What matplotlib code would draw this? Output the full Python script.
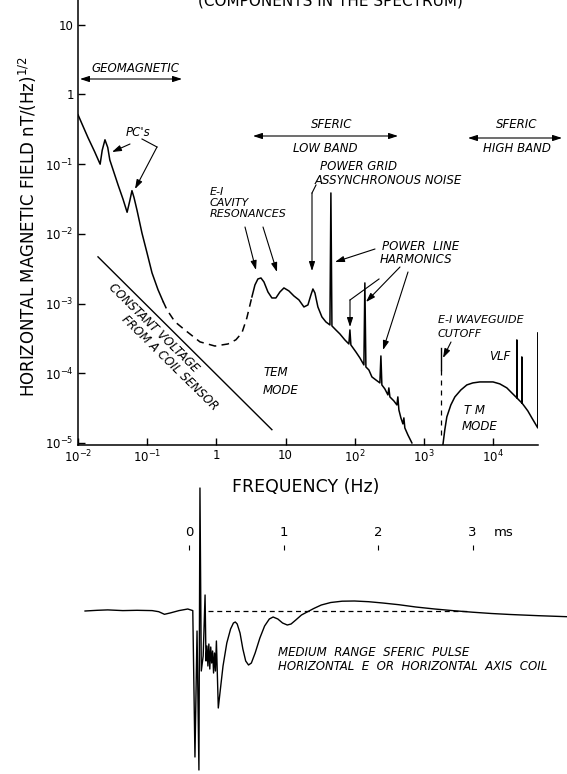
import numpy as np
import matplotlib.pyplot as plt

plt.rcParams['font.family'] = 'DejaVu Sans'
plt.rcParams['mathtext.fontset'] = 'dejavusans'

W, H = 567, 774

# --- spectrum (log10 of frequency in Hz, log10 of field in nT/Hz^1/2) ---
# geomagnetic part with the two PC peaks
geo_logf = [-2.0, -1.93, -1.855, -1.76, -1.68, -1.65, -1.61, -1.57, -1.54, -1.48, -1.42,
            -1.35, -1.29, -1.25, -1.22, -1.19, -1.147, -1.075, -1.003, -0.93, -0.844, -0.77]
geo_logb = [-0.29, -0.45, -0.62, -0.82, -1.0, -0.80, -0.65, -0.76, -0.94, -1.12, -1.30,
            -1.50, -1.69, -1.52, -1.38, -1.48, -1.66, -1.99, -2.27, -2.56, -2.80, -2.97]

# uncertain gap (dashed)
gap_logf = [-0.77, -0.714, -0.60, -0.454, -0.237, -0.02, 0.168, 0.283, 0.37, 0.44, 0.514]
gap_logb = [-2.97, -3.09, -3.26, -3.38, -3.55, -3.61, -3.58, -3.52, -3.42, -3.21, -2.905]

# TEM mode: cavity resonances, power grid and power line harmonics
tem_logf = [0.514, 0.558, 0.601, 0.645, 0.688, 0.746, 0.803, 0.861, 0.919, 0.977, 1.049,
            1.121, 1.194, 1.266, 1.324, 1.367, 1.396, 1.425, 1.468, 1.526, 1.584, 1.642,
            1.656, 1.671, 1.728, 1.786, 1.858, 1.916, 1.931, 1.945, 2.017, 2.075, 2.133,
            2.147, 2.162, 2.205, 2.249, 2.306, 2.364, 2.379, 2.393, 2.436, 2.480, 2.494,
            2.509, 2.566, 2.610, 2.624, 2.639, 2.668, 2.697, 2.711, 2.725, 2.769, 2.827]
tem_logb = [-2.905, -2.733, -2.647, -2.633, -2.690, -2.834, -2.920, -2.920, -2.834, -2.776, -2.819,
            -2.891, -2.948, -3.049, -3.020, -2.877, -2.791, -2.848, -3.049, -3.192, -3.264, -3.307,
            -1.413, -3.321, -3.379, -3.436, -3.522, -3.580, -3.379, -3.594, -3.694, -3.780, -3.881,
            -2.704, -3.910, -3.953, -4.053, -4.096, -4.139, -3.752, -4.168, -4.225, -4.311, -4.211,
            -4.340, -4.397, -4.455, -4.340, -4.527, -4.641, -4.727, -4.641, -4.785, -4.885, -5.0]

# TM mode with VLF transmitter lines
tm_logf = [3.275, 3.303, 3.332, 3.39, 3.448, 3.535, 3.621, 3.708, 3.809, 3.91, 4.0, 4.098,
           4.199, 4.272, 4.344, 4.344, 4.35, 4.373, 4.416, 4.416, 4.42, 4.46, 4.503, 4.561,
           4.604, 4.647, 4.647]
tm_logb = [-5.03, -4.81, -4.627, -4.455, -4.34, -4.24, -4.168, -4.139, -4.125, -4.125, -4.125, -4.153,
           -4.21, -4.283, -4.354, -3.522, -4.36, -4.383, -4.426, -3.766, -4.43, -4.483, -4.541, -4.641,
           -4.713, -4.785, -3.422]

# waveguide cutoff line
cutoff_logf = 3.246
cutoff_solid = [-3.637, -3.953]
cutoff_dash = [-3.953, -4.957]

# constant voltage from a coil sensor (1/f line)
coil_logf = [-1.711, 0.803]
coil_logb = [-2.33, -4.81]

x_ticks = [1e-2, 1e-1, 1, 10, 1e2, 1e3, 1e4]
x_labels = ['$10^{-2}$', '$10^{-1}$', '1', '10', '$10^{2}$', '$10^{3}$', '$10^{4}$']
y_ticks = [1e-5, 1e-4, 1e-3, 1e-2, 1e-1, 1, 10]
y_labels = ['$10^{-5}$', '$10^{-4}$', '$10^{-3}$', '$10^{-2}$', '$10^{-1}$', '1', '10']

# --- sferic pulse (time in ms, amplitude in arbitrary units) ---
pulse_t = [-1.10, -0.97, -0.86, -0.70, -0.55, -0.39, -0.32, -0.26, -0.20, -0.106, -0.013, 0.04,
           0.063, 0.085, 0.105, 0.116, 0.13, 0.15, 0.17, 0.18, 0.19, 0.20, 0.21, 0.22, 0.23,
           0.24, 0.25, 0.26, 0.27, 0.28, 0.29, 0.31, 0.33, 0.36, 0.40, 0.44, 0.47, 0.49, 0.51,
           0.54, 0.57, 0.60, 0.63, 0.66, 0.70, 0.75, 0.80, 0.85, 0.89, 0.94, 0.99, 1.04, 1.08,
           1.13, 1.19, 1.25, 1.32, 1.40, 1.50, 1.62, 1.75, 1.90, 2.05, 2.22, 2.40, 2.60, 2.80,
           3.0, 3.2, 3.4, 3.7, 4.0]
pulse_a = [0, 0.7, 1.1, 0.4, 0.7, 0.4, -0.7, -3.3, -2.0, 0.4, 2.0, 0.4,
           -146, -20, -159, 123, -60, -45, 16, -50, -35, -55, -33, -58, -36,
           -52, -40, -62, -42, -60, -30, -97, -80, -55, -32, -18, -12, -11, -13,
           -22, -38, -50, -54, -52, -42, -27, -15, -8, -6, -8, -12, -14, -13,
           -9, -4, -1, 2.5, 6, 8.5, 9.8, 10, 9.3, 8, 6.3, 4, 2, 0.3,
           -1.2, -2.5, -3.5, -4.7, -5.7]
ms_ticks = [0, 1, 2, 3]


def px(x, y):
    return (x / W, 1 - y / H)


fig = plt.figure(figsize=(W / 100, H / 100), dpi=100)
fig.patch.set_facecolor('white')

ax = fig.add_axes([78 / W, 1 - 445 / H, (538 - 78) / W, 445 / H])
ax.set_xscale('log')
ax.set_yscale('log')
ax.set_xlim(10 ** -2, 10 ** 4.65)
ax.set_ylim(10 ** -5.03, 10 ** 1.356)
for s in ['top', 'right']:
    ax.spines[s].set_visible(False)
for s in ['left', 'bottom']:
    ax.spines[s].set_linewidth(1.1)
ax.set_xticks(x_ticks, x_labels)
ax.set_yticks(y_ticks, y_labels)
ax.minorticks_off()
ax.tick_params(direction='in', length=5, width=1, labelsize=8.5, pad=3)

lw = 1.1
p10 = lambda v: 10 ** np.array(v)
ax.plot(p10(geo_logf), p10(geo_logb), 'k-', lw=lw)
ax.plot(p10(gap_logf), p10(gap_logb), 'k-', lw=lw, dashes=(5, 3.5))
ax.plot(p10(tem_logf), p10(tem_logb), 'k-', lw=lw)
ax.plot(p10(tm_logf), p10(tm_logb), 'k-', lw=lw)
ax.plot(p10([cutoff_logf] * 2), p10(cutoff_solid), 'k-', lw=1.0)
ax.plot(p10([cutoff_logf] * 2), p10(cutoff_dash), 'k-', lw=0.9, dashes=(4, 4))
ax.plot(p10(coil_logf), p10(coil_logb), 'k-', lw=1.0)

# axis titles
fig.text(28 / W, 1 - 227 / H, 'HORIZONTAL MAGNETIC FIELD nT/(Hz)$^{1/2}$',
         rotation=90, ha='center', va='center', fontsize=12)
fig.text(306 / W, 1 - 487 / H, 'FREQUENCY (Hz)', ha='center', va='center', fontsize=12.5)
fig.text(330 / W, 1 - 5 / H, '(COMPONENTS IN THE SPECTRUM)', ha='center', va='baseline',
         fontsize=11)

AST = '-|>,head_length=0.55,head_width=0.18'


def label(x, y, s, ha='left', size=8.5, **kw):
    fig.text(x / W, 1 - y / H, s, ha=ha, va='center', fontsize=size, style='italic', **kw)


def arrow(x0, y0, x1, y1, style=AST):
    ax.annotate('', xy=px(x1, y1), xycoords='figure fraction',
                xytext=px(x0, y0), textcoords='figure fraction',
                arrowprops=dict(arrowstyle=style, color='k', lw=0.8,
                                shrinkA=0, shrinkB=0, mutation_scale=10))


def seg(xs, ys):
    fig.add_artist(plt.Line2D([x / W for x in xs], [1 - y / H for y in ys],
                              color='k', lw=0.8))


DBL = '<|-|>,head_length=0.55,head_width=0.18'

label(135, 69, 'GEOMAGNETIC', ha='center')
arrow(80, 79, 182, 79, DBL)

label(138, 133, "PC's", ha='center')
arrow(130, 144, 112, 152)
seg([142, 157], [139, 147])
arrow(157, 147, 135, 189)

label(332, 125, 'SFERIC', ha='center')
arrow(253, 136, 398, 136, DBL)
label(325, 148, 'LOW BAND', ha='center')

label(517, 125, 'SFERIC', ha='center')
arrow(468, 138, 562, 138, DBL)
label(517, 149, 'HIGH BAND', ha='center')

label(320, 166, 'POWER GRID')
label(315, 180, 'ASSYNCHRONOUS NOISE')
seg([316, 312], [185, 193])
arrow(312, 193, 312, 271)

label(210, 192, 'E-I', size=8)
label(210, 203, 'CAVITY', size=8)
label(210, 214, 'RESONANCES', size=8)
arrow(245, 227, 256, 270)
arrow(263, 227, 277, 272)

label(382, 246, 'POWER  LINE')
label(380, 259, 'HARMONICS')
arrow(375, 249, 335, 262)
seg([379, 350], [279, 300])
arrow(350, 300, 350, 327)
arrow(400, 267, 366, 302)
arrow(408, 272, 383, 350)

label(438, 320, 'E-I WAVEGUIDE', size=8)
label(438, 334, 'CUTOFF', size=8)
arrow(451, 342, 443, 358)

label(500, 357, 'VLF', ha='center')
label(474, 410, 'T M', ha='center')
label(480, 427, 'MODE', ha='center')
label(263, 373, 'TEM')
label(263, 390, 'MODE')

fig.text(154 / W, 1 - 328 / H, 'CONSTANT VOLTAGE', rotation=-44.5, rotation_mode='anchor',
         ha='center', va='center', fontsize=8.5, style='italic')
fig.text(170 / W, 1 - 363 / H, 'FROM A COIL SENSOR', rotation=-44.5, rotation_mode='anchor',
         ha='center', va='center', fontsize=8.5, style='italic')

# --- lower panel: sferic waveform ---
ax2 = fig.add_axes([0, 0, 1, (H - 445) / H])
ax2.set_xlim(-189 / 94.5, (567 - 189) / 94.5)
ax2.set_ylim(611 - 774, 611 - 445)
ax2.axis('off')
ax2.patch.set_alpha(0)
ax2.plot(pulse_t, pulse_a, 'k-', lw=1.0)
ax2.plot([0.2, 2.95], [0, 0], 'k-', lw=0.9, dashes=(4, 3))
ax2.vlines(ms_ticks, 61, 66, color='k', lw=0.8)
for t in ms_ticks:
    ax2.text(t, 79, str(t), ha='center', va='center', fontsize=9.5)
ax2.text(3.22, 79, 'ms', ha='left', va='center', fontsize=9.5)
label(278, 652, 'MEDIUM  RANGE  SFERIC  PULSE', size=8.5)
label(278, 666, 'HORIZONTAL  E  OR  HORIZONTAL  AXIS  COIL', size=8.5)

fig.savefig('out.png', dpi=100, facecolor='white')
